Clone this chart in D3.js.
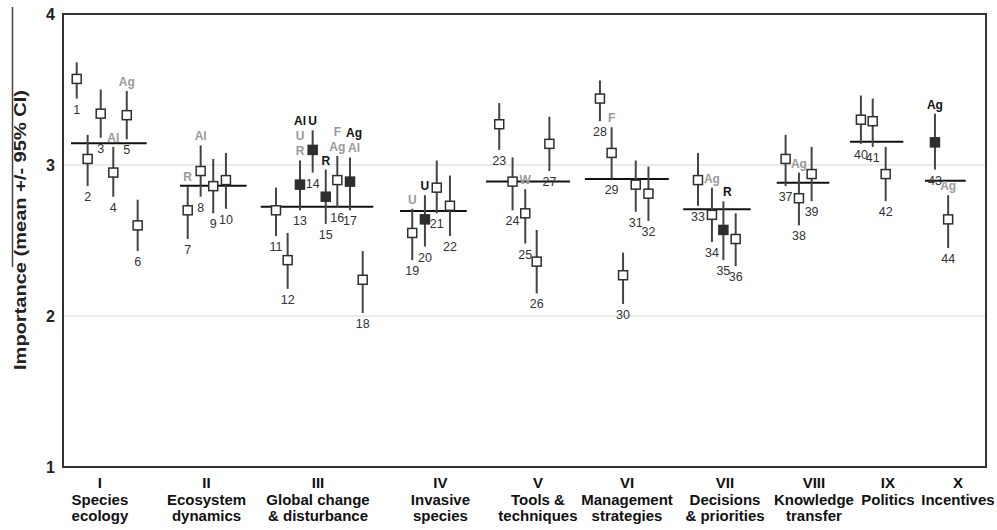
<!DOCTYPE html>
<html>
<head>
<meta charset="utf-8">
<script src="https://cdn.jsdelivr.net/npm/d3@7"></script>
<style>
  body { margin: 0; background: #fff; }
  svg text { font-family: Arial, "Liberation Sans", sans-serif; }
</style>
</head>
<body>
<div class="visHolder"></div>
<script>
const w = 997;
const h = 530;

// item number, x slot, mean and 95% CI
const itemIds = d3.range(1, 45);
const itemSlot = [1.08, 1.94, 2.97, 3.96, 5.02, 5.88, 9.82, 10.84, 11.83, 12.83,
  16.77, 17.69, 18.66, 19.66, 20.69, 21.6, 22.6, 23.6, 27.5, 28.5, 29.43, 30.47,
  34.35, 35.4, 36.4, 37.3, 38.3, 42.28, 43.2, 44.1, 45.1, 46.1,
  50.0, 51.1, 52.0, 52.97, 56.9, 57.95, 58.95, 62.83, 63.76, 64.78, 68.66, 69.7];
const itemMean = [3.57, 3.04, 3.34, 2.95, 3.33, 2.60, 2.70, 2.96, 2.86, 2.90,
  2.70, 2.37, 2.87, 3.10, 2.79, 2.90, 2.89, 2.24, 2.55, 2.64, 2.85, 2.73,
  3.27, 2.89, 2.68, 2.36, 3.14, 3.44, 3.08, 2.27, 2.87, 2.81,
  2.90, 2.67, 2.57, 2.51, 3.04, 2.78, 2.94, 3.30, 3.29, 2.94, 3.15, 2.64];
const itemLow = [3.44, 2.86, 3.18, 2.79, 3.17, 2.43, 2.51, 2.79, 2.68, 2.71,
  2.53, 2.18, 2.70, 2.95, 2.61, 2.72, 2.70, 2.02, 2.37, 2.46, 2.68, 2.53,
  3.10, 2.70, 2.48, 2.15, 2.96, 3.29, 2.91, 2.08, 2.69, 2.63,
  2.73, 2.49, 2.37, 2.33, 2.86, 2.60, 2.76, 3.14, 3.12, 2.76, 2.97, 2.45];
const itemHigh = [3.68, 3.20, 3.50, 3.12, 3.49, 2.77, 2.86, 3.13, 3.04, 3.08,
  2.85, 2.55, 3.03, 3.23, 2.97, 3.06, 3.05, 2.43, 2.71, 2.80, 3.03, 2.93,
  3.41, 3.05, 2.84, 2.57, 3.32, 3.56, 3.25, 2.42, 3.03, 2.99,
  3.08, 2.85, 2.76, 2.68, 3.20, 2.95, 3.12, 3.46, 3.44, 3.12, 3.34, 2.80];
const filledItems = [13, 14, 15, 17, 20, 35, 43];

// annotations above the whiskers: [item, text, dark]
const annotations = [
  [4, 'Al', 0], [5, 'Ag', 0], [7, 'R', 0], [8, 'Al', 0],
  [13, 'R', 0], [13, 'U', 0], [13, 'Al', 1], [14, 'U', 1], [15, 'R', 1],
  [16, 'Ag', 0], [16, 'F', 0], [17, 'Al', 0], [17, 'Ag', 1],
  [19, 'U', 0], [20, 'U', 1], [25, 'W', 0], [29, 'F', 0],
  [34, 'Ag', 0], [35, 'R', 1], [38, 'Ag', 0], [43, 'Ag', 1], [44, 'Ag', 0]
];

// categories
const catNumerals = ['I', 'II', 'III', 'IV', 'V', 'VI', 'VII', 'VIII', 'IX', 'X'];
const catLine1 = ['Species', 'Ecosystem', 'Global change', 'Invasive', 'Tools &',
  'Management', 'Decisions', 'Knowledge', 'Politics', 'Incentives'];
const catLine2 = ['ecology', 'dynamics', '& disturbance', 'species', 'techniques',
  'strategies', '& priorities', 'transfer', '', ''];
const catMean = [3.144, 2.863, 2.724, 2.695, 2.89, 2.907, 2.707, 2.883, 3.154, 2.896];
const catStart = [0.63, 9.21, 15.57, 26.54, 33.31, 41.1, 48.84, 56.2, 61.97, 67.87];
const catEnd = [6.59, 14.46, 24.43, 31.79, 39.92, 47.7, 54.15, 60.34, 66.17, 71.08];
const catLabelSlot = [2.91, 11.3, 20.08, 29.72, 37.4, 44.41, 52.13, 59.13, 64.96, 70.47];

const yTicks = [1, 2, 3, 4];

const plotLeft = 63, plotRight = 986, plotTop = 14, plotBottom = 467;
const annoShift = { 17: 4, 35: 4 };

const svg = d3.select('.visHolder')
  .append('svg')
  .attr('width', w)
  .attr('height', h);

const xScale = d3.scaleLinear().domain([0, 72.68]).range([plotLeft, plotRight]);
const yScale = d3.scaleLinear().domain([1, 4]).range([plotBottom, plotTop]);

// grid lines
svg.append('g')
  .selectAll('line')
  .data([2, 3])
  .enter()
  .append('line')
  .attr('x1', plotLeft)
  .attr('x2', plotRight)
  .attr('y1', d => yScale(d))
  .attr('y2', d => yScale(d))
  .attr('stroke', '#d8d8d8')
  .attr('stroke-width', 1.2);

// y axis labels
const yAxis = d3.axisLeft(yScale).tickValues(yTicks).tickSize(0).tickPadding(8).tickFormat(d3.format('d'));
const yG = svg.append('g')
  .attr('transform', 'translate(' + plotLeft + ',0)')
  .call(yAxis);
yG.select('.domain').remove();
yG.selectAll('text')
  .style('font-size', '16px')
  .style('font-weight', 'bold')
  .style('font-family', 'Arial, "Liberation Sans", sans-serif')
  .attr('fill', '#222');

// frame
svg.append('rect')
  .attr('x', plotLeft)
  .attr('y', plotTop)
  .attr('width', plotRight - plotLeft)
  .attr('height', plotBottom - plotTop)
  .attr('fill', 'none')
  .attr('stroke', '#333')
  .attr('stroke-width', 2);

// y title
svg.append('text')
  .attr('transform', 'translate(25.5,370) rotate(-90)')
  .attr('text-anchor', 'start')
  .attr('textLength', 280)
  .attr('lengthAdjust', 'spacingAndGlyphs')
  .style('font-size', '16px')
  .style('font-weight', 'bold')
  .attr('fill', '#222')
  .text('Importance (mean +/- 95% CI)');
svg.append('line')
  .attr('x1', 12.5).attr('x2', 12.5)
  .attr('y1', 7).attr('y2', 267)
  .attr('stroke', '#444')
  .attr('stroke-width', 1.5);

// category mean lines
svg.append('g')
  .selectAll('line')
  .data(catMean)
  .enter()
  .append('line')
  .attr('x1', (d, i) => xScale(catStart[i]))
  .attr('x2', (d, i) => xScale(catEnd[i]))
  .attr('y1', d => yScale(d))
  .attr('y2', d => yScale(d))
  .attr('stroke', '#111')
  .attr('stroke-width', 2);

// whiskers
svg.append('g')
  .selectAll('line')
  .data(itemIds)
  .enter()
  .append('line')
  .attr('x1', (d, i) => xScale(itemSlot[i]))
  .attr('x2', (d, i) => xScale(itemSlot[i]))
  .attr('y1', (d, i) => yScale(itemLow[i]))
  .attr('y2', (d, i) => yScale(itemHigh[i]))
  .attr('stroke', '#444')
  .attr('stroke-width', 2);

// squares
const sq = 9;
svg.append('g')
  .selectAll('rect')
  .data(itemIds)
  .enter()
  .append('rect')
  .attr('x', (d, i) => xScale(itemSlot[i]) - sq / 2)
  .attr('y', (d, i) => yScale(itemMean[i]) - sq / 2)
  .attr('width', sq)
  .attr('height', sq)
  .attr('fill', d => filledItems.includes(d) ? '#2e2e2e' : '#fff')
  .attr('stroke', '#2e2e2e')
  .attr('stroke-width', 1.5);

// item numbers
svg.append('g')
  .selectAll('text')
  .data(itemIds)
  .enter()
  .append('text')
  .attr('x', (d, i) => xScale(itemSlot[i]))
  .attr('y', (d, i) => yScale(itemLow[i]) + 15)
  .attr('text-anchor', 'middle')
  .style('font-size', '12.5px')
  .attr('fill', '#333')
  .text(d => d);

// annotations, stacked per item
const stackCount = {};
svg.append('g')
  .selectAll('text')
  .data(annotations)
  .enter()
  .append('text')
  .attr('x', d => xScale(itemSlot[d[0] - 1]) + (annoShift[d[0]] || 0))
  .attr('y', function (d) {
    const k = stackCount[d[0]] || 0;
    stackCount[d[0]] = k + 1;
    return yScale(itemHigh[d[0] - 1]) - 5 - k * 15;
  })
  .attr('text-anchor', 'middle')
  .style('font-size', '12px')
  .style('font-weight', 'bold')
  .attr('fill', d => d[2] ? '#111' : '#9a9a9a')
  .text(d => d[1]);

// category captions
const cat = svg.append('g')
  .selectAll('g')
  .data(catNumerals)
  .enter()
  .append('g');
const rows = [[d => d, 488], [(d, i) => catLine1[i], 504.5], [(d, i) => catLine2[i], 521]];
rows.forEach(function (r) {
  cat.append('text')
    .attr('x', (d, i) => xScale(catLabelSlot[i]))
    .attr('y', r[1])
    .attr('text-anchor', 'middle')
    .style('font-size', '15px')
    .style('font-weight', 'bold')
    .attr('fill', '#111')
    .text(r[0]);
});
</script>
</body>
</html>
